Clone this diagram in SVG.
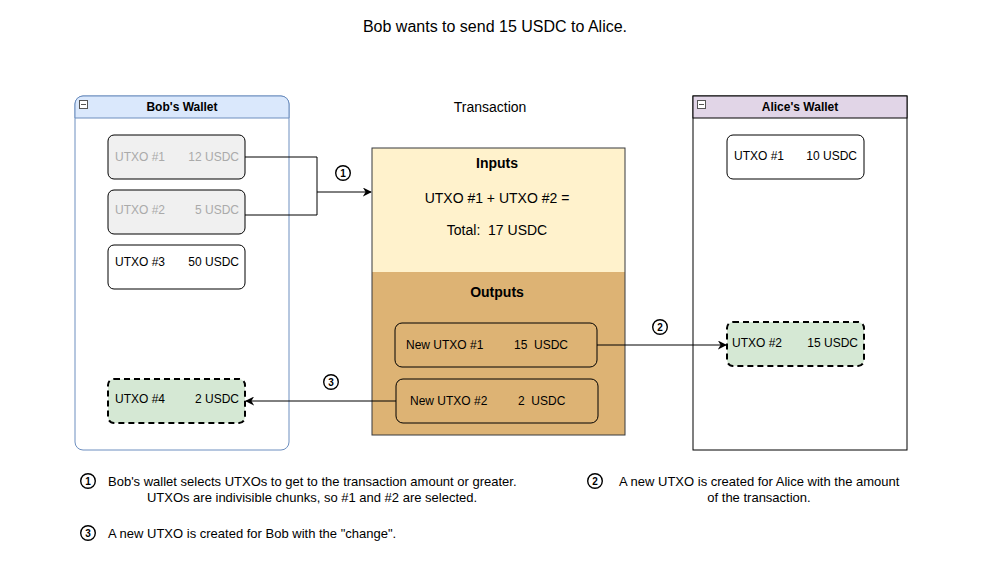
<svg xmlns="http://www.w3.org/2000/svg" width="991" height="586" viewBox="0 0 991 586">
<defs>
<marker id="arr" viewBox="0 0 10 10" refX="9" refY="5" markerWidth="9" markerHeight="9" markerUnits="userSpaceOnUse" orient="auto">
<path d="M0,0 L10,5 L0,10 L3,5 Z" fill="#000"/>
</marker>
</defs>
<style>
text{font-family:"Liberation Sans",Arial,sans-serif;fill:#000}
.t12{font-size:12px}
.t13{font-size:13px}
.t14{font-size:14px}
.b{font-weight:bold}
.gray{fill:#aaaaaa}
.cc{fill:#fff;stroke:#000;stroke-width:1.4}
.cd{font-size:10px;font-weight:bold;text-anchor:middle}
.utxo{stroke:#000;stroke-width:1}
.dash{fill:#d5e8d4;stroke:#000;stroke-width:2;stroke-dasharray:6 4}
.conn{fill:none;stroke:#000;stroke-width:1}
</style>
<rect width="991" height="586" fill="#fff"/>
<text x="495" y="32" text-anchor="middle" style="font-size:16px">Bob wants to send 15 USDC to Alice.</text>
<text x="490" y="112" text-anchor="middle" class="t14">Transaction</text>

<g id="bobs-wallet">
<rect x="75" y="96" width="214" height="354" rx="8" fill="#fff" stroke="#6c8ebf"/>
<path d="M75,118 V104 a8,8 0 0 1 8,-8 H281 a8,8 0 0 1 8,8 V118 Z" fill="#dae8fc" stroke="#6c8ebf"/>
<rect x="79.5" y="100.5" width="8" height="8" fill="#fff" stroke="#555"/>
<line x1="81" y1="104.5" x2="86" y2="104.5" stroke="#555"/>
<text x="182" y="111" text-anchor="middle" class="t12 b">Bob's Wallet</text>
</g>

<g id="bob-utxo1">
<rect x="108" y="135" width="137" height="44" rx="6" fill="#f0f0f0" class="utxo"/>
<text x="115" y="161" class="t12 gray">UTXO #1</text>
<text x="239" y="161" text-anchor="end" class="t12 gray">12 USDC</text>
</g>
<g id="bob-utxo2">
<rect x="108" y="190" width="137" height="44" rx="6" fill="#f0f0f0" class="utxo"/>
<text x="115" y="214" class="t12 gray">UTXO #2</text>
<text x="239" y="214" text-anchor="end" class="t12 gray">5 USDC</text>
</g>
<g id="bob-utxo3">
<rect x="108" y="245" width="137" height="44" rx="6" fill="#fff" class="utxo"/>
<text x="115" y="266" class="t12">UTXO #3</text>
<text x="239" y="266" text-anchor="end" class="t12">50 USDC</text>
</g>
<g id="bob-utxo4">
<rect x="108" y="379" width="137" height="44" rx="6" class="dash"/>
<text x="115" y="403" class="t12">UTXO #4</text>
<text x="239" y="403" text-anchor="end" class="t12">2 USDC</text>
</g>

<g id="transaction">
<rect x="372" y="148" width="253" height="124" fill="#fff2cc"/>
<rect x="372" y="272" width="253" height="163" fill="#ddb374"/>
<rect x="372" y="148" width="253" height="287" fill="none" stroke="#36393d"/>
<text x="497" y="168" text-anchor="middle" class="t14 b">Inputs</text>
<text x="497" y="203" text-anchor="middle" class="t14">UTXO #1 + UTXO #2 =</text>
<text x="497" y="235" text-anchor="middle" class="t14" xml:space="preserve">Total:  17 USDC</text>
<text x="497" y="297" text-anchor="middle" class="t14 b">Outputs</text>
</g>
<g id="new-utxo1">
<rect x="395" y="323" width="202" height="44" rx="7" fill="none" class="utxo"/>
<text x="406" y="349" class="t12">New UTXO #1</text>
<text x="514" y="349" class="t12" xml:space="preserve">15  USDC</text>
</g>
<g id="new-utxo2">
<rect x="396" y="379" width="202" height="44" rx="7" fill="none" class="utxo"/>
<text x="410" y="405" class="t12">New UTXO #2</text>
<text x="518" y="405" class="t12" xml:space="preserve">2  USDC</text>
</g>

<g id="alices-wallet">
<rect x="693" y="96" width="214" height="354" fill="#fff" stroke="#000"/>
<rect x="693" y="96" width="214" height="22" fill="#e1d5e7" stroke="#000"/>
<rect x="697.5" y="100.5" width="8" height="8" fill="#fff" stroke="#555"/>
<line x1="699" y1="104.5" x2="704" y2="104.5" stroke="#555"/>
<text x="800" y="111" text-anchor="middle" class="t12 b">Alice's Wallet</text>
</g>
<g id="alice-utxo1">
<rect x="727" y="135" width="137" height="44" rx="6" fill="#fff" class="utxo"/>
<text x="734" y="160" class="t12">UTXO #1</text>
<text x="857" y="160" text-anchor="end" class="t12">10 USDC</text>
</g>
<g id="alice-utxo2">
<rect x="727" y="322" width="137" height="44" rx="6" class="dash"/>
<text x="732" y="347" class="t12">UTXO #2</text>
<text x="858" y="347" text-anchor="end" class="t12">15 USDC</text>
</g>

<g id="connectors">
<polyline class="conn" points="245,157 317,157 317,215 245,215"/>
<line class="conn" x1="317" y1="192" x2="371" y2="192" marker-end="url(#arr)"/>
<line class="conn" x1="597" y1="345" x2="726" y2="345" marker-end="url(#arr)"/>
<line class="conn" x1="396" y1="401" x2="246" y2="401" marker-end="url(#arr)"/>
<circle class="cc" cx="343" cy="173" r="7.3"/><text x="343" y="176.6" class="cd">1</text>
<circle class="cc" cx="660" cy="327" r="7.3"/><text x="660" y="330.6" class="cd">2</text>
<circle class="cc" cx="331" cy="382" r="7.3"/><text x="331" y="385.6" class="cd">3</text>
</g>

<g id="notes">
<circle class="cc" cx="88" cy="481" r="7.3"/><text x="88" y="484.6" class="cd">1</text>
<text x="108" y="486" class="t13">Bob's wallet selects UTXOs to get to the transaction amount or greater.</text>
<text x="312" y="502" text-anchor="middle" class="t13">UTXOs are indivisible chunks, so #1 and #2 are selected.</text>
<circle class="cc" cx="88" cy="533" r="7.3"/><text x="88" y="536.6" class="cd">3</text>
<text x="108" y="538" class="t13">A new UTXO is created for Bob with the "change".</text>
<circle class="cc" cx="595" cy="481" r="7.3"/><text x="595" y="484.6" class="cd">2</text>
<text x="619" y="486" class="t13">A new UTXO is created for Alice with the amount</text>
<text x="759" y="502" text-anchor="middle" class="t13">of the transaction.</text>
</g>
</svg>
